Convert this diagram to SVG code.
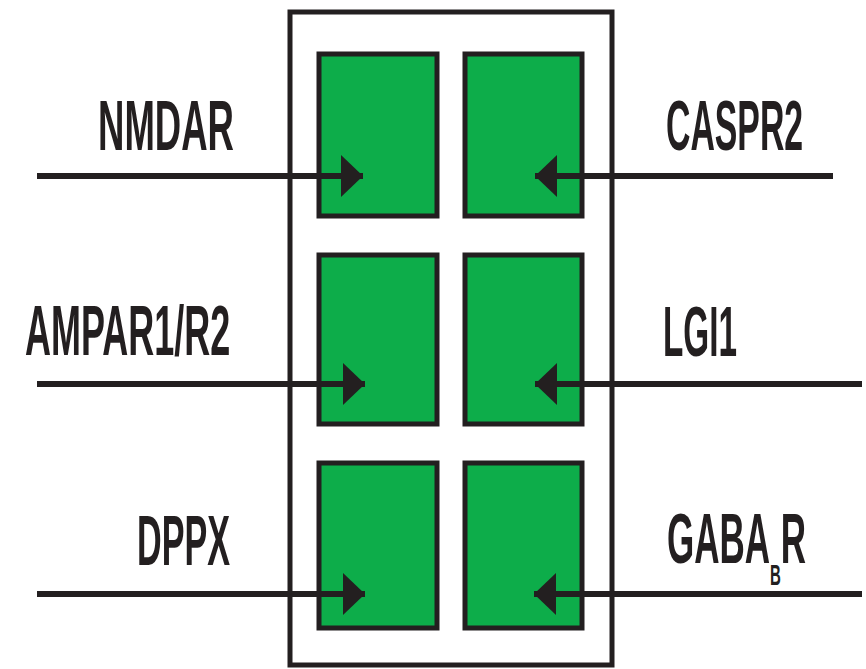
<svg xmlns="http://www.w3.org/2000/svg" width="866" height="669" viewBox="0 0 866 669">
<style>
.bg{fill:#ffffff}
.outer{fill:none;stroke:#231f20;stroke-width:5}
.cell{fill:#0dad4a;stroke:#231f20;stroke-width:5}
.conn{stroke:#231f20;stroke-width:6;fill:none}
.lbl{font-family:"Liberation Sans",Arial,sans-serif;font-weight:bold;font-size:70px;fill:#231f20}
</style>
<defs>
<marker id="ah" markerUnits="userSpaceOnUse" markerWidth="24" markerHeight="42" refX="22" refY="21" orient="auto">
<path d="M0,0 L22,21 L0,42 Z" fill="#231f20"/>
</marker>
</defs>
<rect class="bg" x="0" y="0" width="866" height="669"/>
<g id="membrane">
<rect class="outer" x="290" y="12" width="322" height="653"/>
</g>
<g id="cell-1-1"><rect class="cell" x="319" y="54" width="118" height="162"/></g>
<g id="cell-1-2"><rect class="cell" x="465" y="54" width="117" height="162"/></g>
<g id="cell-2-1"><rect class="cell" x="319" y="255" width="118" height="169"/></g>
<g id="cell-2-2"><rect class="cell" x="465" y="255" width="117" height="169"/></g>
<g id="cell-3-1"><rect class="cell" x="319" y="463" width="118" height="165"/></g>
<g id="cell-3-2"><rect class="cell" x="465" y="463" width="117" height="165"/></g>
<g id="NMDAR"><text class="lbl" transform="translate(98,150) scale(0.522,1)">NMDAR</text></g>
<g id="AMPAR"><text class="lbl" transform="translate(25,355) scale(0.514,1)">AMPAR1/R2</text></g>
<g id="DPPX"><text class="lbl" transform="translate(137,565) scale(0.488,1)">DPPX</text></g>
<g id="CASPR2"><text class="lbl" transform="translate(666,150) scale(0.483,1)">CASPR2</text></g>
<g id="LGI1"><text class="lbl" transform="translate(663,356) scale(0.476,1)">LGI1</text></g>
<g id="GABABR"><text class="lbl" transform="translate(667,563) scale(0.5,1)">GABA<tspan font-size="30" dy="22">B</tspan><tspan dy="-22">R</tspan></text></g>
<g id="connectors">
<line class="conn" x1="37" y1="176" x2="363" y2="176" marker-end="url(#ah)"/>
<line class="conn" x1="37" y1="384" x2="365" y2="384" marker-end="url(#ah)"/>
<line class="conn" x1="37" y1="594" x2="365" y2="594" marker-end="url(#ah)"/>
<line class="conn" x1="833" y1="176" x2="535" y2="176" marker-end="url(#ah)"/>
<line class="conn" x1="862" y1="384" x2="535" y2="384" marker-end="url(#ah)"/>
<line class="conn" x1="862" y1="594" x2="534" y2="594" marker-end="url(#ah)"/>
</g>
</svg>
